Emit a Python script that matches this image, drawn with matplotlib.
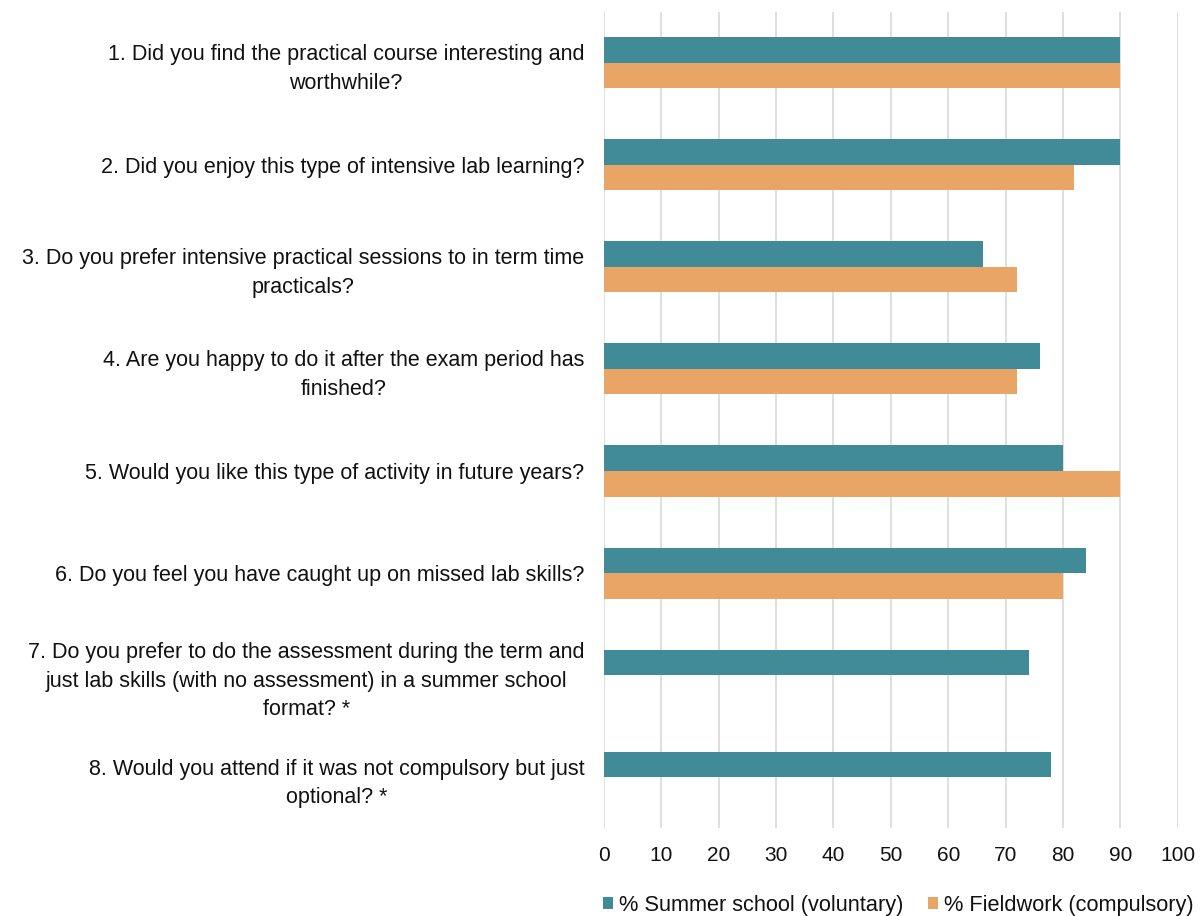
import numpy as np
import matplotlib.pyplot as plt

plt.rcParams['font.family'] = ['Liberation Sans', 'DejaVu Sans']

# survey questions (top to bottom)
questions = [
    "1. Did you find the practical course interesting and\nworthwhile?",
    "2. Did you enjoy this type of intensive lab learning?",
    "3. Do you prefer intensive practical sessions to in term time\npracticals?",
    "4. Are you happy to do it after the exam period has\nfinished?",
    "5. Would you like this type of activity in future years?",
    "6. Do you feel you have caught up on missed lab skills?",
    "7. Do you prefer to do the assessment during the term and\njust lab skills (with no assessment) in a summer school\nformat? *",
    "8. Would you attend if it was not compulsory but just\noptional? *",
]
summer = [90, 90, 66, 76, 80, 84, 74, 78]
fieldwork = [90, 82, 72, 72, 90, 80, 0, 0]

teal = '#418b98'
orange = '#e8a565'

fig = plt.figure(figsize=(12.03, 9.16), dpi=100)
ax = fig.add_axes([0.502, 0.096, 0.477, 0.891])

y = np.arange(len(questions))
h = 0.25
ax.barh(y - h / 2, summer, height=h, color=teal, label='% Summer school (voluntary)', zorder=2)
ax.barh(y + h / 2, fieldwork, height=h, color=orange, label='% Fieldwork (compulsory)', zorder=2)

ax.set_ylim(len(questions) - 0.5, -0.5)
ax.set_xlim(0, 100)
ax.set_xticks(range(0, 101, 10))
ax.set_yticks(y)
ax.set_yticklabels(questions, ha='right', multialignment='center', linespacing=1.45)
ax.tick_params(axis='both', length=0, colors='#111111')
ax.tick_params(axis='y', pad=14, labelsize=15.5)
ax.tick_params(axis='x', pad=13, labelsize=15)
ax.grid(axis='x', color='#d9d9d9', linewidth=1.2, zorder=0)
for s in ax.spines.values():
    s.set_visible(False)

fig.legend(loc='center right', bbox_to_anchor=(0.9925, 0.012), ncol=2, frameon=False,
           fontsize=15.7, handlelength=0.46, handleheight=0.46, handletextpad=0.3,
           columnspacing=1.1, borderpad=0, borderaxespad=0, labelcolor='#111111')

fig.savefig('out.png', dpi=100)
